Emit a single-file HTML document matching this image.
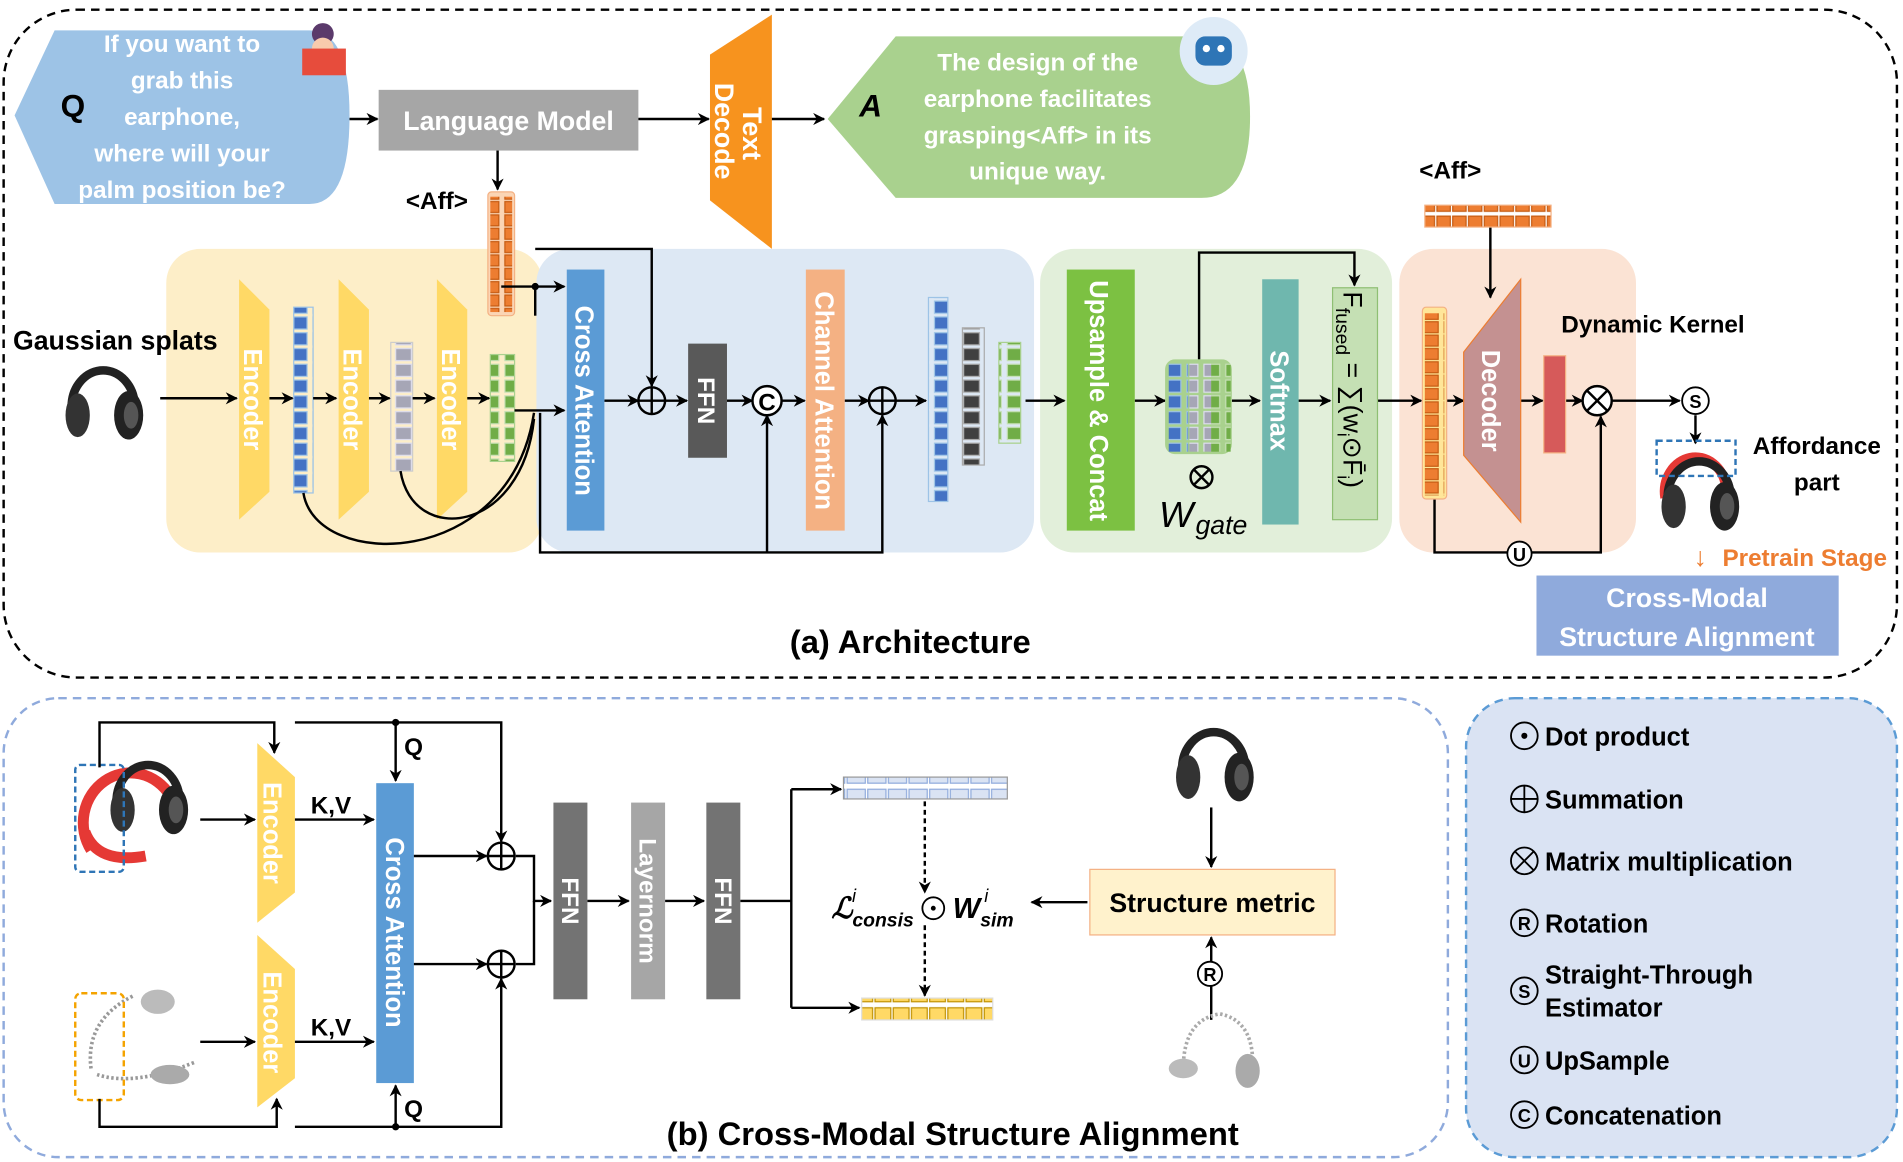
<!DOCTYPE html>
<html><head><meta charset="utf-8"><style>
html,body{margin:0;padding:0;background:#fff}
svg{display:block}
text{font-family:"Liberation Sans",sans-serif}
.w{fill:#fff;font-weight:bold}
.b{font-weight:bold;fill:#000}
</style></head><body>
<svg width="1903" height="1162" viewBox="0 0 1568 957" preserveAspectRatio="none" xmlns="http://www.w3.org/2000/svg">
<defs>
<marker id="ar" markerWidth="10" markerHeight="10" refX="9" refY="5" orient="auto" markerUnits="userSpaceOnUse"><path d="M0,0 L10,5 L0,10 L3,5z" fill="#000"/></marker>
<pattern id="pb" width="16" height="13" patternUnits="userSpaceOnUse"><rect x="2" y="1" width="11" height="10" fill="#4472c4" stroke="#9dc3e6" stroke-width="1"/></pattern>
<pattern id="pg" width="18" height="13" patternUnits="userSpaceOnUse"><rect x="2" y="1" width="13" height="10" fill="#a6a6b6" stroke="#dde" stroke-width="1"/></pattern>
<pattern id="pgr" width="18" height="13" patternUnits="userSpaceOnUse"><rect x="2" y="1" width="13" height="10" fill="#70ad47" stroke="#c5e0b4" stroke-width="1"/></pattern>
<pattern id="pd" width="18" height="13" patternUnits="userSpaceOnUse"><rect x="2" y="1" width="13" height="10" fill="#404040" stroke="#aaa" stroke-width="1"/></pattern>
<pattern id="po" width="18" height="11" patternUnits="userSpaceOnUse"><rect x="2" y="1" width="13" height="9" fill="#ed7d31" stroke="#c55a11" stroke-width="1"/></pattern>
<pattern id="poh" width="13" height="16" patternUnits="userSpaceOnUse"><rect x="1" y="2" width="11" height="12" fill="#ed7d31" stroke="#c55a11" stroke-width="1"/></pattern>
<pattern id="plb" width="17" height="18" patternUnits="userSpaceOnUse"><rect x="1" y="2" width="15" height="13" fill="#dae3f3" stroke="#8faadc" stroke-width="1"/></pattern>
<pattern id="py" width="15" height="18" patternUnits="userSpaceOnUse"><rect x="1" y="2" width="13" height="13" fill="#ffd966" stroke="#bf9000" stroke-width="1"/></pattern>
<g id="hp"><path d="M-26,5 A26,30 0 0 1 26,5" fill="none" stroke="#222" stroke-width="7"/><ellipse cx="-21" cy="12" rx="10" ry="18" fill="#333"/><ellipse cx="21" cy="12" rx="12" ry="20" fill="#222"/><ellipse cx="23" cy="12" rx="6" ry="11" fill="#555"/></g>
</defs>

<rect x="3" y="8" width="1560" height="550" rx="60" fill="none" stroke="#000" stroke-width="2" stroke-dasharray="7,5"/>

<path d="M12,95 L45,25 H255 Q288,25 288,95 Q288,168 255,168 H45 Z" fill="#9dc3e6"/>
<text x="50" y="96" class="b" font-size="26">Q</text>
<g font-size="20" text-anchor="middle"><text x="150" y="43" class="w">If you want to</text><text x="150" y="73" class="w">grab this</text><text x="150" y="103" class="w">earphone,</text><text x="150" y="133" class="w">where will your</text><text x="150" y="163" class="w">palm position be?</text></g>
<circle cx="266" cy="28" r="9" fill="#5b3a6b"/><circle cx="266" cy="40" r="9" fill="#f8cbad"/><rect x="249" y="40" width="36" height="22" fill="#e74c3c"/>

<rect x="312" y="74" width="214" height="50" fill="#a6a6a6"/>
<text x="419" y="107" text-anchor="middle" class="w" font-size="22">Language Model</text>
<line x1="288" y1="98" x2="311" y2="98" stroke="#000" stroke-width="2" marker-end="url(#ar)"/>
<line x1="526" y1="98" x2="584" y2="98" stroke="#000" stroke-width="2" marker-end="url(#ar)"/>
<path d="M585,45 L636,12 L636,205 L585,165Z" fill="#f7931e"/>
<text transform="translate(612,110) rotate(90)" text-anchor="middle" class="w" font-size="22">Text</text>
<text transform="translate(589,108) rotate(90)" text-anchor="middle" class="w" font-size="22">Decode</text>
<line x1="636" y1="98" x2="679" y2="98" stroke="#000" stroke-width="2" marker-end="url(#ar)"/>
<path d="M682,98 L738,30 H990 Q1030,30 1030,96 Q1030,163 990,163 H738 Z" fill="#a9d18e"/>
<text x="708" y="96" font-size="26" font-style="italic" class="b">A</text>
<g font-size="20" text-anchor="middle"><text x="855" y="58" class="w">The design of the</text><text x="855" y="88" class="w">earphone facilitates</text><text x="855" y="118" class="w">grasping&lt;Aff&gt; in its</text><text x="855" y="148" class="w">unique way.</text></g>
<circle cx="1000" cy="42" r="28" fill="#deebf7"/><rect x="985" y="30" width="30" height="24" rx="8" fill="#2e75b6"/><circle cx="994" cy="40" r="3" fill="#fff"/><circle cx="1006" cy="40" r="3" fill="#fff"/>

<text x="360" y="172" text-anchor="middle" class="b" font-size="20">&lt;Aff&gt;</text>
<line x1="410" y1="124" x2="410" y2="156" stroke="#000" stroke-width="2" marker-end="url(#ar)"/>

<rect x="137" y="205" width="310" height="250" rx="28" fill="#fdeec8"/>
<rect x="442" y="205" width="410" height="250" rx="28" fill="#dde8f4"/>
<rect x="857" y="205" width="290" height="250" rx="28" fill="#e2efda"/>
<rect x="1153" y="205" width="195" height="250" rx="28" fill="#fbe3d4"/>

<rect x="402" y="158" width="22" height="102" rx="3" fill="#fbd5b5" stroke="#f4b183"/>
<rect x="404" y="162" width="18" height="95" fill="url(#po)"/>

<text x="95" y="288" text-anchor="middle" class="b" font-size="22">Gaussian splats</text>
<use href="#hp" x="85" y="330"/>
<line x1="132" y1="328" x2="195" y2="328" stroke="#000" stroke-width="2" marker-end="url(#ar)"/>

<g fill="#ffd966">
<path d="M197,230 L222,255 L222,405 L197,428Z"/><path d="M279,230 L304,255 L304,405 L279,428Z"/><path d="M360,230 L385,255 L385,405 L360,428Z"/></g>
<g font-size="21"><text transform="translate(201,329) rotate(90)" text-anchor="middle" class="w">Encoder</text><text transform="translate(283,329) rotate(90)" text-anchor="middle" class="w">Encoder</text><text transform="translate(364,329) rotate(90)" text-anchor="middle" class="w">Encoder</text></g>
<rect x="242" y="253" width="16" height="153" fill="url(#pb)" stroke="#9dc3e6"/>
<rect x="322" y="282" width="18" height="106" fill="url(#pg)" stroke="#ccc"/>
<rect x="404" y="292" width="20" height="88" fill="url(#pgr)" stroke="#a9d18e"/>
<g stroke="#000" stroke-width="2" fill="none">
<line x1="222" y1="328" x2="241" y2="328" marker-end="url(#ar)"/><line x1="258" y1="328" x2="277" y2="328" marker-end="url(#ar)"/>
<line x1="304" y1="328" x2="321" y2="328" marker-end="url(#ar)"/><line x1="340" y1="328" x2="358" y2="328" marker-end="url(#ar)"/>
<line x1="385" y1="328" x2="403" y2="328" marker-end="url(#ar)"/>
<path d="M250,406 C260,470 420,470 440,340"/><path d="M330,388 C340,450 430,440 440,345"/>
<path d="M424,338 L465,338" marker-end="url(#ar)"/>
<path d="M413,236 L465,236" marker-end="url(#ar)"/>
<path d="M441,236 L441,260"/>
<path d="M498,330 L526,330" marker-end="url(#ar)"/>
<path d="M441,205 L537,205 L537,318" marker-end="url(#ar)"/>
<path d="M548,330 L566,330" marker-end="url(#ar)"/><path d="M599,330 L620,330" marker-end="url(#ar)"/>
<path d="M644,330 L663,330" marker-end="url(#ar)"/><path d="M696,330 L716,330" marker-end="url(#ar)"/>
<path d="M738,330 L763,330" marker-end="url(#ar)"/>
<path d="M445,340 L445,455 L727,455 L727,342" marker-end="url(#ar)"/>
<path d="M632,455 L632,342" marker-end="url(#ar)"/>
<path d="M845,330 L877,330" marker-end="url(#ar)"/>
<path d="M935,330 L960,330" marker-end="url(#ar)"/>
<path d="M1015,330 L1038,330" marker-end="url(#ar)"/>
<path d="M1070,330 L1096,330" marker-end="url(#ar)"/>
<path d="M1135,330 L1171,330" marker-end="url(#ar)"/>
<path d="M988,296 L988,208 L1116,208 L1116,235" marker-end="url(#ar)"/>
<path d="M1190,330 L1206,330" marker-end="url(#ar)"/>
<path d="M1253,330 L1271,330" marker-end="url(#ar)"/>
<path d="M1290,330 L1304,330" marker-end="url(#ar)"/>
<path d="M1328,330 L1384,330" marker-end="url(#ar)"/>
<path d="M1228,186 L1228,245" marker-end="url(#ar)"/>
<path d="M1182,410 L1182,455 L1242,455 M1262,455 L1319,455 L1319,343" marker-end="url(#ar)"/>
<path d="M1397,342 L1397,365" marker-end="url(#ar)"/>
</g>
<circle cx="441" cy="236" r="3" fill="#000"/>
<rect x="467" y="222" width="31" height="215" fill="#5b9bd5"/>
<text transform="translate(474,330) rotate(90)" text-anchor="middle" class="w" font-size="21">Cross Attention</text>
<circle cx="537" cy="330" r="11" fill="none" stroke="#000" stroke-width="2"/><path d="M526,330 H548 M537,319 V341" stroke="#000" stroke-width="2"/>
<rect x="567" y="283" width="32" height="94" fill="#595959"/>
<text transform="translate(575,330) rotate(90)" text-anchor="middle" class="w" font-size="20">FFN</text>
<circle cx="632" cy="330" r="12" fill="#fff" stroke="#000" stroke-width="2"/><text x="632" y="338" text-anchor="middle" class="b" font-size="20">C</text>
<rect x="664" y="222" width="32" height="215" fill="#f4b183"/>
<text transform="translate(672,330) rotate(90)" text-anchor="middle" class="w" font-size="21">Channel Attention</text>
<circle cx="727" cy="330" r="11" fill="none" stroke="#000" stroke-width="2"/><path d="M716,330 H738 M727,319 V341" stroke="#000" stroke-width="2"/>
<rect x="765" y="245" width="16" height="168" fill="url(#pb)" stroke="#9dc3e6"/>
<rect x="793" y="270" width="18" height="113" fill="url(#pd)" stroke="#aaa"/>
<rect x="823" y="282" width="18" height="83" fill="url(#pgr)" stroke="#a9d18e"/>

<rect x="879" y="222" width="56" height="215" fill="#7cc142"/>
<text transform="translate(898,330) rotate(90)" text-anchor="middle" class="w" font-size="21">Upsample &amp; Concat</text>
<rect x="960" y="296" width="55" height="78" rx="8" fill="#a9d18e"/>
<rect x="963" y="298" width="16" height="74" fill="url(#pb)"/><rect x="980" y="298" width="18" height="74" fill="url(#pg)"/><rect x="998" y="298" width="16" height="74" fill="url(#pgr)"/>
<circle cx="990" cy="393" r="9" fill="none" stroke="#000" stroke-width="2"/><path d="M984,387 L996,399 M996,387 L984,399" stroke="#000" stroke-width="2"/>
<text x="955" y="434" font-family="Liberation Serif" font-style="italic" font-size="30" fill="#000">W</text><text x="985" y="440" font-family="Liberation Serif" font-style="italic" font-size="22" fill="#000">gate</text>
<rect x="1040" y="230" width="30" height="202" fill="#6fb7ae"/>
<text transform="translate(1047,330) rotate(90)" text-anchor="middle" class="w" font-size="21">Softmax</text>
<rect x="1098" y="237" width="37" height="191" fill="#c5e0b4" stroke="#8fbf73"/>
<text transform="translate(1107,240) rotate(90)" font-family="Liberation Serif" font-size="22" fill="#000">F<tspan font-size="16" dy="6">fused</tspan><tspan dy="-6"> = ∑(w</tspan><tspan font-size="14" dy="5">i</tspan><tspan dy="-5">⊙F̄</tspan><tspan font-size="14" dy="5">i</tspan><tspan dy="-5">)</tspan></text>

<rect x="1172" y="253" width="20" height="158" rx="3" fill="#ffe699" stroke="#f4b183"/>
<rect x="1174" y="258" width="16" height="150" fill="url(#po)"/>
<path d="M1206,290 L1253,230 L1253,430 L1206,375Z" fill="#c49191" stroke="#ed7d31" stroke-width="1"/>
<text transform="translate(1221,330) rotate(90)" text-anchor="middle" class="w" font-size="21">Decoder</text>
<rect x="1272" y="293" width="18" height="80" fill="#d65a5a" stroke="#f4b183"/>
<circle cx="1316" cy="330" r="12" fill="#fff" stroke="#000" stroke-width="2"/><path d="M1308,322 L1324,338 M1324,322 L1308,338" stroke="#000" stroke-width="2"/>
<text x="1362" y="274" text-anchor="middle" class="b" font-size="20">Dynamic Kernel</text>
<text x="1195" y="147" text-anchor="middle" class="b" font-size="20">&lt;Aff&gt;</text>
<rect x="1174" y="169" width="104" height="18" fill="url(#poh)" stroke="#f4b183"/>
<circle cx="1252" cy="456" r="10" fill="#fff" stroke="#000" stroke-width="1.5"/><text x="1252" y="462" text-anchor="middle" font-size="15" class="b">U</text>
<circle cx="1397" cy="330" r="11" fill="#fff" stroke="#000" stroke-width="1.5"/><text x="1397" y="336" text-anchor="middle" font-size="15" class="b">S</text>
<path d="M1372,410 A25,28 0 0 1 1422,400" fill="none" stroke="#e53935" stroke-width="8"/>
<use href="#hp" x="1400" y="405"/>
<rect x="1365" y="363" width="65" height="29" fill="none" stroke="#2e75b6" stroke-width="2" stroke-dasharray="5,3"/>
<text x="1497" y="374" text-anchor="middle" class="b" font-size="20">Affordance</text>
<text x="1497" y="404" text-anchor="middle" class="b" font-size="20">part</text>
<text x="1401" y="466" text-anchor="middle" fill="#ed7d31" font-size="22" font-weight="bold">↓</text>
<text x="1487" y="466" text-anchor="middle" fill="#ed7d31" font-size="20" font-weight="bold">Pretrain Stage</text>
<rect x="1266" y="474" width="249" height="66" fill="#8faadc"/>
<text x="1390" y="500" text-anchor="middle" class="w" font-size="22">Cross-Modal</text>
<text x="1390" y="532" text-anchor="middle" class="w" font-size="22">Structure Alignment</text>
<text x="750" y="538" text-anchor="middle" class="b" font-size="27">(a)  Architecture</text>

<rect x="3" y="575" width="1190" height="378" rx="45" fill="none" stroke="#8faadc" stroke-width="2" stroke-dasharray="7,5"/>
<rect x="1208" y="575" width="355" height="378" rx="40" fill="#dae3f3" stroke="#5b9bd5" stroke-width="2" stroke-dasharray="7,5"/>
<g font-size="21">
<text x="1273" y="614" class="b">Dot product</text><text x="1273" y="666" class="b">Summation</text><text x="1273" y="717" class="b">Matrix multiplication</text><text x="1273" y="768" class="b">Rotation</text><text x="1273" y="810" class="b">Straight-Through</text><text x="1273" y="837" class="b">Estimator</text><text x="1273" y="881" class="b">UpSample</text><text x="1273" y="926" class="b">Concatenation</text></g>
<g fill="none" stroke="#000" stroke-width="1.5">
<circle cx="1256" cy="606" r="11"/><circle cx="1256" cy="658" r="11"/><path d="M1245,658 H1267 M1256,647 V669"/>
<circle cx="1256" cy="709" r="11"/><path d="M1248,701 L1264,717 M1264,701 L1248,717"/>
<circle cx="1256" cy="760" r="11"/><circle cx="1256" cy="816" r="11"/><circle cx="1256" cy="873" r="11"/><circle cx="1256" cy="918" r="11"/></g>
<circle cx="1256" cy="606" r="2.5" fill="#000"/>
<g font-size="15" text-anchor="middle"><text x="1256" y="766" class="b">R</text><text x="1256" y="822" class="b">S</text><text x="1256" y="879" class="b">U</text><text x="1256" y="924" class="b">C</text></g>

<path d="M75,700 A38,40 0 0 1 140,655" fill="none" stroke="#e53935" stroke-width="9"/>
<path d="M70,685 Q80,712 120,705" fill="none" stroke="#e53935" stroke-width="9"/>
<use href="#hp" x="122" y="655"/>
<rect x="62" y="630" width="40" height="88" rx="4" fill="none" stroke="#2e75b6" stroke-width="2" stroke-dasharray="5,3"/>
<path d="M75,880 Q70,840 110,820 M80,885 Q110,895 160,875" fill="none" stroke="#999" stroke-width="3" stroke-dasharray="2,2"/>
<ellipse cx="130" cy="825" rx="14" ry="10" fill="#bbb"/><ellipse cx="140" cy="885" rx="16" ry="8" fill="#aaa"/>
<rect x="62" y="818" width="40" height="88" rx="5" fill="none" stroke="#f4a300" stroke-width="2" stroke-dasharray="5,3"/>

<g fill="#ffd966"><path d="M212,612 L243,640 L243,735 L212,760Z"/><path d="M212,770 L243,798 L243,888 L212,912Z"/></g>
<text transform="translate(217,686) rotate(90)" text-anchor="middle" class="w" font-size="21">Encoder</text>
<text transform="translate(217,842) rotate(90)" text-anchor="middle" class="w" font-size="21">Encoder</text>
<rect x="310" y="645" width="31" height="247" fill="#5b9bd5"/>
<text transform="translate(318,768) rotate(90)" text-anchor="middle" class="w" font-size="21">Cross Attention</text>
<g stroke="#000" stroke-width="2" fill="none">
<path d="M165,675 L210,675" marker-end="url(#ar)"/><path d="M165,858 L210,858" marker-end="url(#ar)"/>
<path d="M82,632 L82,595 L226,595 L226,620" marker-end="url(#ar)"/>
<path d="M82,905 L82,928 L228,928 L228,905" marker-end="url(#ar)"/>
<path d="M243,675 L308,675" marker-end="url(#ar)"/><path d="M243,858 L308,858" marker-end="url(#ar)"/>
<path d="M243,595 L413,595 L413,693" marker-end="url(#ar)"/>
<path d="M243,928 L413,928 L413,806" marker-end="url(#ar)"/>
<path d="M326,595 L326,643" marker-end="url(#ar)"/><path d="M326,928 L326,894" marker-end="url(#ar)"/>
<path d="M341,705 L401,705" marker-end="url(#ar)"/><path d="M341,794 L401,794" marker-end="url(#ar)"/>
<path d="M425,705 L440,705 L440,742 L454,742" marker-end="url(#ar)"/><path d="M425,794 L440,794 L440,742"/>
<path d="M484,742 L518,742" marker-end="url(#ar)"/><path d="M548,742 L580,742" marker-end="url(#ar)"/>
<path d="M610,742 L652,742 M652,650 L652,830"/><path d="M652,650 L693,650" marker-end="url(#ar)"/><path d="M652,830 L708,830" marker-end="url(#ar)"/>
<path d="M762,660 L762,735" stroke-dasharray="4,3" marker-end="url(#ar)"/><path d="M762,762 L762,820" stroke-dasharray="4,3" marker-end="url(#ar)"/>
<path d="M896,743 L850,743" marker-end="url(#ar)"/>
<path d="M998,665 L998,714" marker-end="url(#ar)"/><path d="M998,840 L998,772" marker-end="url(#ar)"/>
</g>
<circle cx="326" cy="595" r="3"/><circle cx="326" cy="928" r="3"/>
<g font-size="20"><text x="256" y="670" class="b">K,V</text><text x="256" y="853" class="b">K,V</text><text x="333" y="622" class="b">Q</text><text x="333" y="920" class="b">Q</text></g>
<g fill="none" stroke="#000" stroke-width="2"><circle cx="413" cy="705" r="11"/><path d="M402,705 H424 M413,694 V716"/><circle cx="413" cy="794" r="11"/><path d="M402,794 H424 M413,783 V805"/></g>
<rect x="456" y="661" width="28" height="162" fill="#737373"/><text transform="translate(463,742) rotate(90)" text-anchor="middle" class="w" font-size="20">FFN</text>
<rect x="520" y="661" width="28" height="162" fill="#a6a6a6"/><text transform="translate(527,742) rotate(90)" text-anchor="middle" class="w" font-size="20">Layernorm</text>
<rect x="582" y="661" width="28" height="162" fill="#737373"/><text transform="translate(589,742) rotate(90)" text-anchor="middle" class="w" font-size="20">FFN</text>
<rect x="695" y="640" width="135" height="18" fill="url(#plb)" stroke="#999"/>
<rect x="710" y="822" width="108" height="18" fill="url(#py)" stroke="#ddd"/>
<text x="685" y="756" font-family="Liberation Serif" font-style="italic" font-weight="bold" font-size="24" fill="#000">ℒ<tspan font-size="16" dy="7">consis</tspan></text>
<text x="702" y="743" font-family="Liberation Serif" font-style="italic" font-size="15" fill="#000">i</text>
<circle cx="769" cy="748" r="9" fill="none" stroke="#000" stroke-width="1.5"/><circle cx="769" cy="748" r="2" fill="#000"/>
<text x="785" y="756" font-family="Liberation Serif" font-style="italic" font-weight="bold" font-size="24" fill="#000">W<tspan font-size="16" dy="7">sim</tspan></text>
<text x="811" y="743" font-family="Liberation Serif" font-style="italic" font-size="15" fill="#000">i</text>
<rect x="898" y="716" width="202" height="54" fill="#fff2cc" stroke="#f4b183"/>
<text x="999" y="751" text-anchor="middle" class="b" font-size="22">Structure metric</text>
<use href="#hp" x="1000" y="628"/>
<path d="M975,880 Q975,840 1005,835 Q1030,840 1032,870" fill="none" stroke="#aaa" stroke-width="3" stroke-dasharray="2,2"/>
<ellipse cx="975" cy="880" rx="12" ry="8" fill="#bbb"/><ellipse cx="1028" cy="882" rx="10" ry="14" fill="#aaa"/>
<circle cx="997" cy="802" r="10" fill="#fff" stroke="#000" stroke-width="1.5"/><text x="997" y="808" text-anchor="middle" class="b" font-size="15">R</text>
<text x="785" y="943" text-anchor="middle" class="b" font-size="27">(b)  Cross-Modal Structure Alignment</text>
</svg>
</body></html>
